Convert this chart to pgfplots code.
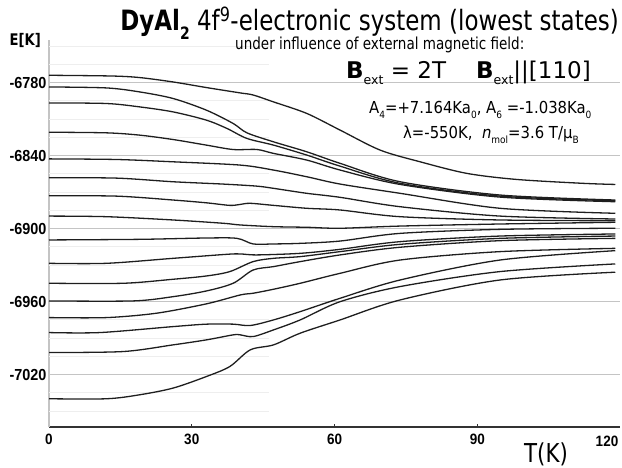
\documentclass[border=0pt]{standalone}
\usepackage{pgfplots}
\pgfplotsset{compat=1.18}
\usepackage{fontspec}
\setmainfont{DejaVu Sans}[FakeStretch=0.82]
\newfontfamily\normfont{DejaVu Sans}
\newfontfamily\midfont{DejaVu Sans}[FakeStretch=0.9]
\newfontfamily\tickfont{Liberation Sans}[FakeStretch=0.9]
\definecolor{gridc}{HTML}{C4C4C4}
\definecolor{faint}{HTML}{EEEEEE}
\definecolor{curve}{HTML}{1E1E1E}
\begin{document}
\begin{tikzpicture}[x=1bp,y=1bp]
\path[use as bounding box] (0,0) rectangle (622,468);
\begin{axis}[
  at={(49bp,41bp)}, anchor=south west,
  scale only axis, width=571bp, height=387bp,
  xmin=0, xmax=120, ymin=-7063, ymax=-6745,
  axis x line*=bottom, axis y line*=left,
  x axis line style={draw=black!80, line width=1.3bp, -},
  y axis line style={draw=gridc, line width=1.2bp, -},
  xtick={0,30,60,90}, xticklabels={0,30,60,90},
  ytick={-6780,-6840,-6900,-6960,-7020},
  yticklabels={-6780,-6840,-6900,-6960,-7020},
  tick align=inside, major tick length=3bp,
  xtick style={draw=black!80, line width=0.8bp},
  ytick style={draw=none},
  ymajorgrids, major grid style={draw=gridc, line width=1.2bp},
  /pgf/number format/assume math mode=true,
  xticklabel style={font=\tickfont\bfseries\fontsize{15bp}{17bp}\selectfont, yshift=-4bp},
  yticklabel style={font=\tickfont\bfseries\fontsize{16bp}{18bp}\selectfont, xshift=1bp},
  clip=false,
  lev/.style={draw=curve, line width=1.3bp, smooth, tension=0.5, mark=none, solid},
]
% faint partial minor grid lines
\addplot[faint, line width=1bp, mark=none, unbounded coords=jump] coordinates {
(0,-6750) (46.5,-6750) (0,nan)
(0,-6765) (46.2,-6765) (0,nan)
(0,-6795) (46.2,-6795) (0,nan)
(0,-6810) (46.2,-6810) (0,nan)
(0,-6825) (46.2,-6825) (0,nan)
(0,-6855) (46.2,-6855) (0,nan)
(0,-6870) (46.2,-6870) (0,nan)
(0,-6885) (46.2,-6885) (0,nan)
(0,-6915) (46.2,-6915) (0,nan)
(0,-6930) (46.2,-6930) (0,nan)
(0,-6945) (46.2,-6945) (0,nan)
(0,-6975) (46.2,-6975) (0,nan)
(0,-6990) (46.2,-6990) (0,nan)
(0,-7005) (46.2,-7005) (0,nan)
(0,-7035) (46.2,-7035) (0,nan)
(0,-7050) (46.2,-7050)
};
% c1
\addplot[lev] coordinates {(0,-6774.0) (13.2,-6774.6) (19.1,-6775.9) (26.1,-6779.5) (33.1,-6784.1) (40.2,-6788.5) (42.9,-6790.2) (47.2,-6795.9) (54.2,-6805.4) (61.2,-6819.1) (69.6,-6835.5) (78.0,-6845.1) (87.8,-6854.6) (98.3,-6859.6) (112.3,-6862.8) (119,-6863.7)};
% c2
\addplot[lev] coordinates {(0,-6783.6) (12.1,-6784.4) (19.1,-6787.7) (26.1,-6793.1) (33.1,-6802.7) (38.7,-6813.6) (41.6,-6821.3) (47.2,-6828.7) (54.2,-6836.9) (61.2,-6846.4) (73.8,-6861.5) (94.8,-6872.4) (119,-6876.5)};
% c3
\addplot[lev] coordinates {(0,-6796.7) (12.1,-6797.2) (19.1,-6800.0) (26.1,-6804.1) (33.1,-6810.9) (37.4,-6817.7) (41.6,-6825.9) (47.2,-6831.4) (54.2,-6839.6) (61.2,-6848.7) (73.8,-6862.8) (94.8,-6873.3) (119,-6877.1)};
% c4
\addplot[lev] coordinates {(0,-6820.8) (12.1,-6821.3) (19.1,-6823.2) (26.1,-6826.8) (33.1,-6831.4) (38.7,-6835.0) (43.7,-6835.0) (47.2,-6838.2) (54.2,-6843.7) (61.2,-6851.9) (73.8,-6863.7) (94.8,-6874.1) (119,-6877.9)};
% c5
\addplot[lev] coordinates {(0,-6842.7) (14.2,-6843.2) (26.1,-6845.1) (40.2,-6847.8) (47.2,-6851.9) (54.2,-6857.4) (61.2,-6863.4) (73.8,-6871.0) (94.8,-6883.3) (119,-6887.4)};
% c6
\addplot[lev] coordinates {(0,-6858.2) (14.2,-6858.5) (26.1,-6861.5) (36.6,-6863.4) (43.7,-6865.1) (47.2,-6866.9) (54.2,-6871.0) (61.2,-6874.3) (73.8,-6882.0) (94.8,-6889.7) (119,-6892.1)};
% c7
\addplot[lev] coordinates {(0,-6873.0) (14.2,-6873.3) (26.1,-6876.5) (33.1,-6878.8) (38.0,-6880.9) (40.2,-6880.1) (42.3,-6879.2) (47.2,-6880.9) (54.2,-6883.3) (61.2,-6884.7) (73.8,-6890.2) (94.8,-6892.9) (119,-6893.5)};
% c8
\addplot[lev] coordinates {(0,-6889.7) (12.1,-6890.2) (26.1,-6892.9) (36.6,-6895.6) (40.2,-6897.0) (47.2,-6898.4) (54.2,-6898.9) (61.2,-6899.7) (73.8,-6897.9) (94.8,-6896.2) (119,-6894.8)};
% c9
\addplot[lev] coordinates {(0,-6909.3) (19.1,-6908.8) (33.1,-6907.7) (39.5,-6908.0) (42.9,-6912.6) (47.2,-6912.6) (52.8,-6912.1) (61.2,-6910.2) (73.8,-6903.9) (94.8,-6900.6) (119,-6899.7)};
% c10
\addplot[lev] coordinates {(0,-6928.5) (12.1,-6928.5) (26.1,-6924.4) (37.4,-6921.1) (40.2,-6920.8) (43.7,-6921.6) (52.8,-6920.3) (61.2,-6917.0) (73.8,-6910.7) (94.8,-6906.1) (119,-6904.4)};
% c11
\addplot[lev] coordinates {(0,-6944.9) (15.6,-6944.9) (26.1,-6941.6) (33.1,-6938.9) (38.0,-6935.3) (42.9,-6927.1) (47.2,-6924.4) (52.8,-6923.0) (61.2,-6918.9) (73.8,-6912.9) (94.8,-6908.0) (119,-6906.1)};
% c12
\addplot[lev] coordinates {(0,-6959.4) (17.7,-6959.4) (26.1,-6955.9) (33.1,-6951.2) (38.7,-6944.9) (42.9,-6934.0) (47.2,-6931.2) (52.8,-6927.1) (61.2,-6921.6) (73.8,-6915.3) (94.8,-6909.9) (119,-6908.0)};
% c13
\addplot[lev] coordinates {(0,-6973.1) (12.1,-6973.1) (22.6,-6969.5) (33.1,-6961.8) (40.2,-6954.5) (42.9,-6953.1) (47.2,-6949.8) (52.8,-6944.9) (61.2,-6936.7) (73.8,-6925.8) (94.8,-6918.9) (119,-6916.2)};
% c14
\addplot[lev] coordinates {(0,-6985.4) (10.7,-6985.4) (26.1,-6980.5) (33.1,-6978.5) (38.7,-6978.5) (42.3,-6979.6) (47.2,-6975.0) (52.8,-6968.2) (61.2,-6957.2) (73.8,-6942.2) (94.8,-6925.8) (119,-6918.1)};
% c15
\addplot[lev] coordinates {(0,-7001.8) (15.6,-7001.0) (26.1,-6995.5) (33.1,-6991.4) (38.7,-6987.3) (40.2,-6987.3) (42.9,-6988.7) (47.2,-6983.2) (52.8,-6975.0) (61.2,-6960.0) (73.8,-6947.6) (94.8,-6935.3) (119,-6929.0)};
% c16
\addplot[lev] coordinates {(0,-7039.8) (12.1,-7039.8) (19.1,-7036.5) (26.1,-7031.0) (33.1,-7021.5) (38.0,-7013.3) (42.3,-6999.6) (47.2,-6995.5) (52.8,-6985.9) (61.2,-6975.0) (73.8,-6958.6) (94.8,-6942.2) (119,-6935.8)};
\node[anchor=east, inner sep=0pt, xshift=-8bp, font=\fontsize{16bp}{18bp}\selectfont\bfseries] at (axis cs:0,-6745) {E[K]};
\end{axis}
% texts
\node[anchor=base east, inner sep=0pt] at (619,437) {\fontsize{28bp}{30bp}\selectfont\bfseries DyAl\raisebox{-0.3em}{\fontsize{17bp}{18bp}\selectfont 2}\mdseries\ 4f\textsuperscript{9}-electronic system (lowest states)};
\node[anchor=base west, inner sep=0pt] at (235,418) {\fontsize{16.5bp}{19bp}\selectfont under influence of external magnetic field:};
\node[anchor=base west, inner sep=0pt] at (346,389) {\normfont\fontsize{23bp}{25bp}\selectfont\textbf{B}\raisebox{-0.25em}{\fontsize{12.5bp}{13bp}\selectfont ext} = 2T\hspace{30bp}\textbf{B}\raisebox{-0.25em}{\fontsize{12.5bp}{13bp}\selectfont ext}||[110]};
\node[anchor=base west, inner sep=0pt] at (369,354) {\midfont\fontsize{16.5bp}{18bp}\selectfont A\raisebox{-0.25em}{\fontsize{10bp}{11bp}\selectfont 4}=+7.164Ka\raisebox{-0.25em}{\fontsize{10bp}{11bp}\selectfont 0}, A\raisebox{-0.25em}{\fontsize{10bp}{11bp}\selectfont 6} =-1.038Ka\raisebox{-0.25em}{\fontsize{10bp}{11bp}\selectfont 0}};
\node[anchor=base west, inner sep=0pt] at (403,329) {\midfont\fontsize{16.5bp}{18bp}\selectfont λ=-550K,\ \ \textit{n}\raisebox{-0.25em}{\fontsize{10bp}{11bp}\selectfont mol}=3.6 T/μ\raisebox{-0.25em}{\fontsize{10bp}{11bp}\selectfont B}};
\node[anchor=base, inner sep=0pt] at (607,21) {\tickfont\bfseries\fontsize{15bp}{17bp}\selectfont 120};
\node[anchor=base west, inner sep=0pt] at (524,5) {\fontsize{26bp}{28bp}\selectfont T(K)};
\end{tikzpicture}
\end{document}
